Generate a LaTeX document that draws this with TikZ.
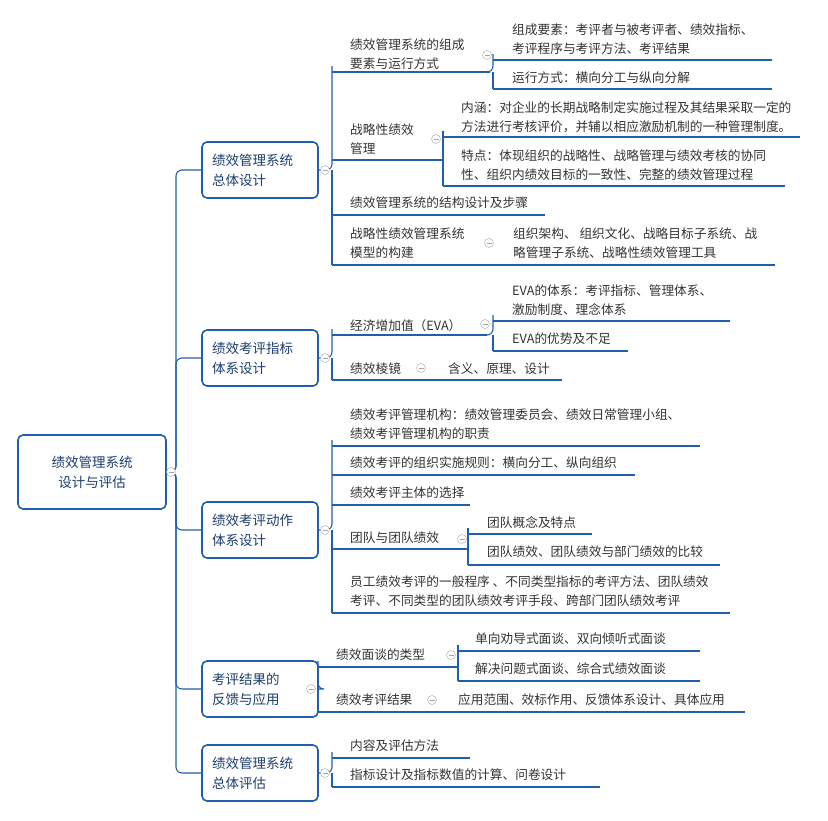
\documentclass[tikz,border=0pt]{standalone}
\usepackage{fontspec}
\setmainfont{Noto Sans CJK SC}
\usetikzlibrary{positioning}
\definecolor{mapblue}{HTML}{1F5FAE}
\definecolor{txtgray}{HTML}{333333}
\definecolor{topictxt}{HTML}{1C3E6E}
\tikzset{
  ln/.style={draw=mapblue, line width=1.1pt, rounded corners=6pt},
  topicbox/.style={draw=mapblue, line width=1.6pt, rounded corners=5pt, fill=white,
    minimum width=116pt, minimum height=56pt, text width=96pt, align=left,
    text=topictxt, font=\fontsize{13.5}{20}\selectfont},
  leaf/.style={anchor=north west, inner sep=0pt, align=left, text=txtgray, yshift=-3pt,
    font=\fontsize{12.7}{18.5}\selectfont},
  fold/.style={circle, draw=gray!70, fill=white, inner sep=0pt, minimum size=9pt,
    path picture={\draw[gray!70] ([xshift=-2.5pt]path picture bounding box.center) -- ([xshift=2.5pt]path picture bounding box.center);}}
}
\newcommand{\uline}[3]{\draw[ln] (#1,#3) -- (#2,#3);}
\begin{document}
\begin{tikzpicture}[x=1pt,y=-1pt]
\useasboundingbox (0,0) rectangle (828,820);
% root and main topics
\node[topicbox, minimum width=148pt, minimum height=74pt, text width=120pt, align=center] (root) at (92,472) {绩效管理系统\\设计与评估};
\node[topicbox] (design) at (260,170) {绩效管理系统\\总体设计};
\node[topicbox] (index) at (260,358) {绩效考评指标\\体系设计};
\node[topicbox] (action) at (260,530) {绩效考评动作\\体系设计};
\node[topicbox] (result) at (260,689) {考评结果的\\反馈与应用};
\node[topicbox] (assess) at (260,773) {绩效管理系统\\总体评估};
\foreach \t in {design,index,action,result,assess}
  \draw[ln] (root.east) -- (176,472) |- (\t.west);

% group 1
\draw[ln] (design.east) -- (332,170) |- (332,72);
\draw[ln] (332,170) |- (332,265);
\uline{332}{490}{72} \uline{332}{443}{160} \uline{332}{545}{215} \uline{332}{497}{265}
\node[leaf] (elem) at (350,36) {绩效管理系统的组成\\要素与运行方式};
\node[leaf] (strat) at (350,121) {战略性绩效\\管理};
\node[leaf] (struct) at (350,194) {绩效管理系统的结构设计及步骤};
\node[leaf] (model) at (350,225) {战略性绩效管理系统\\模型的构建};
\draw[ln] (490,72) -- (493,72) |- (493,60); \draw[ln] (493,72) |- (493,89);
\uline{493}{772}{60} \uline{493}{772}{89}
\node[leaf] (parts) at (512,21) {组成要素：考评者与被考评者、绩效指标、\\考评程序与考评方法、考评结果};
\node[leaf] (run) at (512,69) {运行方式：横向分工与纵向分解};
\draw[ln] (443,160) |- (443,137); \draw[ln] (443,160) |- (443,186);
\uline{443}{800}{137} \uline{443}{785}{186}
\node[leaf] (meaning) at (461,99) {内涵：对企业的长期战略制定实施过程及其结果采取一定的\\方法进行考核评价，并辅以相应激励机制的一种管理制度。};
\node[leaf] (feature) at (461,147) {特点：体现组织的战略性、战略管理与绩效考核的协同\\性、组织内绩效目标的一致性、完整的绩效管理过程};
\uline{497}{775}{265}
\node[leaf] (sub) at (513,225) {组织架构、 组织文化、战略目标子系统、战\\略管理子系统、战略性绩效管理工具};
\node[fold] at (487,55) {}; \node[fold] at (436,139) {}; \node[fold] at (489,243) {};

% group 2
\draw[ln] (index.east) -- (332,358) |- (332,335); \draw[ln] (332,358) |- (332,380);
\uline{332}{487}{335} \uline{332}{427}{380}
\node[leaf] (eva) at (350,316) {经济增加值（EVA）};
\node[leaf] (prism) at (350,360) {绩效棱镜};
\draw[ln] (487,335) -- (493,335) |- (493,321); \draw[ln] (493,335) |- (493,351);
\uline{493}{730}{321} \uline{493}{628}{351} \uline{427}{562}{380}
\node[leaf] (evasys) at (512,282) {EVA的体系：考评指标、管理体系、\\激励制度、理念体系};
\node[leaf] (evapro) at (512,330) {EVA的优势及不足};
\node[leaf] (prismc) at (448,360) {含义、原理、设计};
\node[fold] at (485,324) {}; \node[fold] at (421,368) {};

% group 3
\draw[ln] (action.east) -- (332,530) |- (332,446); \draw[ln] (332,530) |- (332,613);
\uline{332}{700}{446} \uline{332}{635}{475} \uline{332}{470}{505} \uline{332}{468}{549} \uline{332}{730}{613}
\node[leaf] (org) at (350,406) {绩效考评管理机构：绩效管理委员会、绩效日常管理小组、\\绩效考评管理机构的职责};
\node[leaf] (rule) at (350,454) {绩效考评的组织实施规则：横向分工、纵向组织};
\node[leaf] (subj) at (350,484) {绩效考评主体的选择};
\node[leaf] (team) at (350,529) {团队与团队绩效};
\node[leaf] (proc) at (350,573) {员工绩效考评的一般程序 、不同类型指标的考评方法、团队绩效\\考评、不同类型的团队绩效考评手段、跨部门团队绩效考评};
\draw[ln] (468,549) |- (468,534); \draw[ln] (468,549) |- (468,565);
\uline{468}{592}{534} \uline{468}{720}{565}
\node[leaf] (tconc) at (487,513) {团队概念及特点};
\node[leaf] (tcomp) at (487,543) {团队绩效、团队绩效与部门绩效的比较};
\node[fold] at (462,539) {};

% group 4
\draw[ln] (result.east) -- (318,689) |- (318,667); \draw[ln] (318,689) |- (318,712);
\uline{318}{458}{667} \uline{318}{440}{712}
\node[leaf] (talk) at (336,646) {绩效面谈的类型};
\node[leaf] (res) at (336,691) {绩效考评结果};
\draw[ln] (458,667) |- (458,651); \draw[ln] (458,667) |- (458,681);
\uline{458}{700}{651} \uline{458}{700}{681} \uline{440}{745}{712}
\node[leaf] (talk1) at (475,630) {单向劝导式面谈、双向倾听式面谈};
\node[leaf] (talk2) at (475,660) {解决问题式面谈、综合式绩效面谈};
\node[leaf] (use) at (458,691) {应用范围、效标作用、反馈体系设计、具体应用};
\node[fold] at (451,655) {}; \node[fold] at (432,700) {};

% group 5
\draw[ln] (assess.east) -- (332,773) |- (332,758); \draw[ln] (332,773) |- (332,787);
\uline{332}{470}{758} \uline{332}{600}{787}
\node[leaf] (cont) at (350,737) {内容及评估方法};
\node[leaf] (calc) at (350,766) {指标设计及指标数值的计算、问卷设计};

% fold marks of main topics
\node[fold] at (171,472) {};
\foreach \y in {170,358,530,773} \node[fold] at (325,\y) {};
\node[fold] at (311,689) {};
\end{tikzpicture}
\end{document}
